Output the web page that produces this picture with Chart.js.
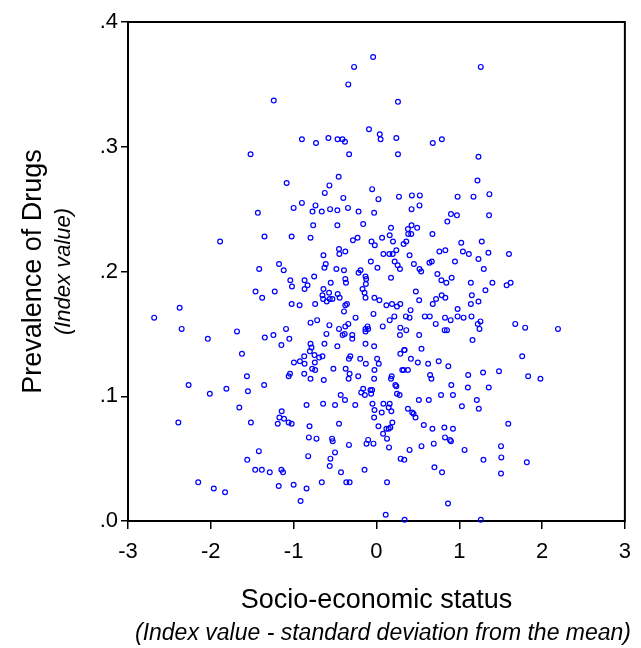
<!DOCTYPE html>
<html>
<head>
<meta charset="utf-8">
<script src="https://cdn.jsdelivr.net/npm/chart.js@4.4.1/dist/chart.umd.min.js"></script>
<style>
  html,body{margin:0;padding:0;background:#fff;}
  #wrap{width:641px;height:648px;}
</style>
</head>
<body>
<div id="wrap"><canvas id="chart" width="641" height="648"></canvas></div>
<script>
// ====== DATA ======
const xTitle = 'Socio-economic status';
const xSubtitle = '(Index value - standard deviation from the mean)';
const yTitle = 'Prevalence of Drugs';
const ySubtitle = '(Index value)';
const yTickLabels = ['.0', '.1', '.2', '.3', '.4'];
const xTickValues = [-3, -2, -1, 0, 1, 2, 3];

// socio-economic status (x) of each observation
const sesIndex = [
  -1.24,-1.52,-1.084,
  -0.04,-0.27,-0.34,0.26,-0.09,-0.90,-0.73,-0.58,-0.47,-0.41,-0.38,0.04,0.05,0.24,0.68,0.79,-0.33,0.26,-0.456,
  1.26,1.232,1.22,
  -1.0,-1.432,-1.352,-1.024,-1.888,-1.416,-1.176,-1.12,-1.04,-1.02,-1.46,-1.228,-1.38,-1.024,-2.376,-2.684,-2.352,-2.036,-1.684,-1.348,-1.244,-1.092,-1.052,-1.148,
  -0.568,-0.624,-0.052,-0.400,0.024,0.272,0.428,0.524,0.980,-0.900,-0.736,-0.772,-0.660,-0.560,-0.472,-0.344,-0.216,-0.028,0.424,0.520,
  0.900,0.972,0.856,-0.764,-0.472,-0.160,0.176,0.380,0.424,0.492,0.384,0.420,0.160,0.676,-0.796,-0.284,-0.228,0.068,-0.060,0.200,
  -0.020,0.328,0.360,-0.452,-0.448,-0.376,-0.640,0.084,0.156,0.196,0.240,0.400,0.760,0.832,-0.068,0.220,0.256,0.284,0.452,0.640,
  0.668,0.948,-0.612,-0.628,-0.484,-0.392,0.012,-0.192,-0.216,0.520,0.540,0.736,0.784,0.844,0.908,-0.752,-0.868,-0.832,-0.868,-0.552,
  -0.376,-0.368,-0.132,-0.124,-0.128,0.176,-0.640,-0.168,-0.144,-0.132,-0.652,-0.572,-0.468,-0.444,0.476,0.516,-0.644,-0.600,-0.564,-0.532,
  -0.024,0.036,-0.356,-0.376,-0.740,-0.928,0.120,0.188,0.248,0.288,0.680,0.720,0.788,0.832,0.980,-0.392,-0.036,0.412,0.356,0.400,
  0.216,0.160,-0.252,0.584,0.644,0.828,0.896,0.980,-0.796,-0.716,-0.568,-0.340,-0.376,-0.452,0.076,0.288,0.360,0.716,-0.132,-0.108,
  -0.100,-0.132,-0.604,-0.408,-0.384,-0.292,-0.292,0.284,0.516,0.824,0.852,-0.796,-0.784,-0.628,-0.472,-0.132,-0.028,0.544,0.340,
  1.172,1.364,1.360,1.024,1.272,1.044,1.116,1.232,1.352,1.600,1.296,1.140,1.400,1.572,1.620,1.316,1.152,1.140,1.232,1.052,
  1.148,1.256,1.224,1.244,1.676,1.796,2.192,1.160,
  -1.624,-0.996,-1.564,-1.060,-1.044,-2.268,-1.812,-2.012,-1.552,-1.356,-1.656,-1.144,-1.172,-1.116,-1.192,-1.060,-1.024,-2.392,-1.516,-1.420,
  -1.560,-1.464,-1.384,-1.288,-1.148,-1.128,-2.152,-1.964,-1.828,-1.180,-1.000,
  -0.804,-0.872,-0.748,-0.692,-0.652,-0.924,-0.868,-0.744,-0.776,-0.740,-0.872,-0.796,-0.636,-0.520,-0.372,-0.324,-0.336,-0.332,-0.316,-0.196,
  -0.128,0.008,0.028,-0.024,-0.028,-0.220,0.288,0.336,0.416,0.500,0.624,0.752,0.868,0.312,0.328,0.380,0.184,0.176,0.228,0.240,
  0.648,0.664,0.904,-0.160,-0.184,-0.140,-0.072,-0.052,-0.064,-0.432,-0.380,0.248,0.280,0.780,0.924,-0.844,-0.644,-0.500,-0.256,-0.048,
  0.084,0.160,0.148,0.180,-0.024,0.064,-0.028,0.380,0.432,0.448,0.472,0.512,0.632,-0.452,0.192,0.024,0.120,0.148,0.168,0.080,
  0.572,0.676,0.820,0.924,-0.808,-0.816,-0.724,-0.536,-0.528,-0.332,-0.100,-0.120,-0.036,0.128,0.152,0.400,0.544,0.692,0.828,0.888,
  0.900,-0.824,-0.500,-0.556,-0.564,-0.428,-0.144,0.292,0.336,0.700,0.792,-0.844,-0.660,-0.364,-0.324,0.128,-0.916,0.864,0.112,0.340,
  1.760,1.108,1.288,1.480,1.832,1.980,1.104,1.356,1.212,1.032,1.236,1.592,1.064,1.504,1.292,1.508,1.816,1.504,1.260
];

// prevalence of drugs (y) of each observation, same order
const drugPrevalence = [
  0.337,0.294,0.271,
  0.372,0.364,0.350,0.336,0.314,0.306,0.303,0.307,0.306,0.306,0.304,0.310,0.306,0.307,0.303,0.306,0.294,0.294,0.276,
  0.364,0.292,0.273,
  0.251,0.247,0.228,0.228,0.224,0.202,0.206,0.201,0.193,0.188,0.184,0.184,0.179,0.174,0.171,0.163,0.154,0.146,0.152,0.147,0.149,0.154,0.146,0.141,
  0.269,0.263,0.266,0.259,0.258,0.260,0.261,0.261,0.260,0.255,0.253,0.248,0.248,0.250,0.249,0.251,0.248,0.247,0.250,0.253,
  0.246,0.245,0.240,0.237,0.237,0.238,0.235,0.234,0.237,0.235,0.230,0.230,0.229,0.230,0.227,0.225,0.227,0.227,0.224,0.224,
  0.221,0.222,0.224,0.218,0.214,0.216,0.213,0.214,0.214,0.214,0.217,0.213,0.216,0.217,0.208,0.208,0.205,0.202,0.206,0.207,
  0.208,0.208,0.206,0.203,0.202,0.201,0.203,0.201,0.199,0.202,0.200,0.198,0.193,0.191,0.195,0.196,0.193,0.189,0.186,0.191,
  0.194,0.191,0.196,0.194,0.190,0.195,0.186,0.186,0.183,0.179,0.181,0.183,0.182,0.179,0.184,0.177,0.178,0.176,0.178,0.178,
  0.179,0.177,0.174,0.173,0.174,0.173,0.173,0.174,0.172,0.174,0.174,0.178,0.181,0.179,0.170,0.168,0.166,0.169,0.164,0.163,
  0.164,0.161,0.163,0.164,0.164,0.163,0.161,0.164,0.159,0.161,0.157,0.158,0.156,0.154,0.156,0.155,0.153,0.158,0.154,0.156,
  0.154,0.152,0.150,0.149,0.150,0.149,0.146,0.149,0.149,0.153,0.153,0.142,0.139,0.142,0.140,0.142,0.140,0.138,0.137,
  0.260,0.262,0.245,0.223,0.224,0.216,0.214,0.210,0.215,0.214,0.202,0.191,0.191,0.189,0.191,0.185,0.181,0.174,0.176,0.163,
  0.164,0.160,0.158,0.154,0.158,0.155,0.154,0.145,
  0.134,0.127,0.116,0.116,0.118,0.109,0.106,0.102,0.104,0.109,0.091,0.088,0.083,0.082,0.078,0.079,0.078,0.079,0.079,0.056,
  0.049,0.041,0.041,0.039,0.041,0.039,0.031,0.026,0.023,0.028,0.029,
  0.136,0.132,0.133,0.131,0.132,0.128,0.126,0.127,0.122,0.121,0.118,0.114,0.113,0.122,0.122,0.118,0.114,0.130,0.132,0.130,
  0.126,0.130,0.126,0.121,0.114,0.116,0.134,0.137,0.130,0.127,0.126,0.128,0.124,0.121,0.121,0.121,0.116,0.114,0.109,0.108,
  0.117,0.114,0.109,0.106,0.103,0.101,0.105,0.105,0.102,0.101,0.097,0.102,0.101,0.101,0.101,0.093,0.094,0.093,0.093,0.094,
  0.094,0.094,0.091,0.088,0.089,0.087,0.083,0.090,0.087,0.086,0.083,0.097,0.097,0.078,0.079,0.076,0.074,0.074,0.075,0.070,
  0.077,0.074,0.075,0.074,0.076,0.067,0.066,0.066,0.064,0.061,0.065,0.062,0.062,0.066,0.059,0.057,0.060,0.062,0.067,0.065,
  0.064,0.052,0.055,0.050,0.044,0.039,0.041,0.050,0.049,0.043,0.039,0.026,0.031,0.031,0.031,0.031,0.016,0.014,0.005,0.001,
  0.132,0.117,0.119,0.120,0.116,0.114,0.107,0.107,0.097,0.092,0.090,0.078,0.057,0.060,0.049,0.051,0.047,0.038,0.001
];

// ====== CHART ======
const FONT = "'Liberation Sans', Arial, sans-serif";

const frameAndTitles = {
  id: 'frameAndTitles',
  beforeDatasetsDraw(chart){
    const {ctx, chartArea:a} = chart;
    ctx.save();
    ctx.strokeStyle = '#000'; ctx.lineWidth = 2;
    ctx.strokeRect(a.left, a.top, a.right - a.left, a.bottom - a.top);
    ctx.restore();
  },
  afterDraw(chart){
    const {ctx, chartArea:a} = chart;
    const midX = (a.left + a.right) / 2, midY = (a.top + a.bottom) / 2;
    ctx.save();
    ctx.fillStyle = '#000'; ctx.textAlign = 'center'; ctx.textBaseline = 'middle';
    ctx.font = `27px ${FONT}`;
    ctx.fillText(xTitle, midX, 601);
    ctx.font = `italic 23px ${FONT}`;
    ctx.fillText(xSubtitle, 383, 634);
    ctx.translate(34, midY); ctx.rotate(-Math.PI/2);
    ctx.font = `27px ${FONT}`;
    ctx.fillText(yTitle, 0, 0);
    ctx.font = `italic 22px ${FONT}`;
    ctx.fillText(ySubtitle, 0, 30);
    ctx.restore();
  }
};

new Chart(document.getElementById('chart'), {
  type: 'scatter',
  data: { datasets: [{
    data: sesIndex.map((x, i) => ({ x, y: drugPrevalence[i] })),
    pointStyle: 'circle', pointRadius: 2.4, pointBorderWidth: 1.2,
    borderColor: '#0000ff', backgroundColor: 'rgba(0,0,0,0)', clip: false
  }]},
  options: {
    responsive: false, animation: false, devicePixelRatio: 1,
    layout: { padding: { top: 22, right: 13, left: 0, bottom: 0 } },
    plugins: { legend: { display: false }, tooltip: { enabled: false } },
    scales: {
      x: {
        type: 'linear', min: -3, max: 3,
        afterBuildTicks: s => { s.ticks = xTickValues.map(v => ({ value: v })); },
        afterFit: s => { s.height = 127; },
        ticks: { color: '#000', font: { family: FONT, size: 22 }, padding: 10, maxRotation: 0 },
        grid: { drawOnChartArea: false, tickLength: 8, color: '#000', lineWidth: 1.5 },
        border: { display: false }
      },
      y: {
        min: 0, max: 0.4,
        afterBuildTicks: s => { s.ticks = yTickLabels.map((t, i) => ({ value: i / 10 })); },
        afterFit: s => { s.width = 128; },
        ticks: { color: '#000', font: { family: FONT, size: 22 }, padding: 3,
                 callback: v => yTickLabels[Math.round(v * 10)] },
        grid: { drawOnChartArea: false, tickLength: 7, color: '#000', lineWidth: 1.5 },
        border: { display: false }
      }
    }
  },
  plugins: [frameAndTitles]
});
</script>
</body>
</html>
